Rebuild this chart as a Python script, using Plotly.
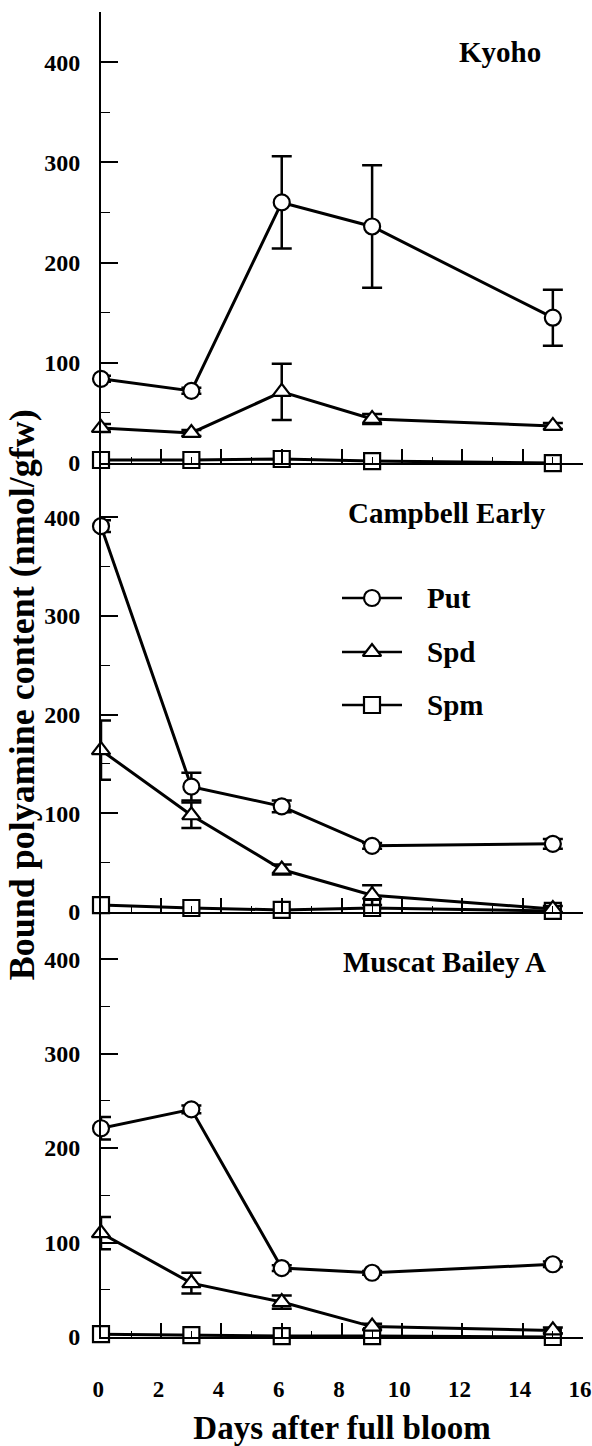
import plotly.graph_objects as go

days = [0, 3, 6, 9, 15]

kyoho_put = [84, 72, 260, 236, 145]
kyoho_put_err = [3, 3, 46, 61, 28]
kyoho_spd = [35, 30, 71, 44, 37]
kyoho_spd_err = [4, 3, 28, 5, 3]
kyoho_spm = [3, 3, 4, 2, 0]

campbell_put = [391, 127, 107, 67, 69]
campbell_put_err = [6, 14, 6, 3, 5]
campbell_spd = [164, 98, 43, 17, 3]
campbell_spd_err = [30, 13, 5, 10, 3]
campbell_spm = [7, 4, 2, 4, 1]

muscat_put = [221, 241, 73, 68, 77]
muscat_put_err = [12, 4, 3, 2, 3]
muscat_spd = [110, 57, 37, 11, 7]
muscat_spd_err = [17, 11, 7, 3, 3]
muscat_spm = [3, 2, 1, 1, 0]

cultivars = ["Kyoho", "Campbell Early", "Muscat Bailey A"]
series_names = ["Put", "Spd", "Spm"]
x_ticks = [0, 2, 4, 6, 8, 10, 12, 14, 16]
y_ticks = [0, 100, 200, 300, 400]

FONT = "Liberation Serif, Times New Roman, serif"
symbols = {"Put": "circle", "Spd": "triangle-up", "Spm": "square"}
MSIZE = 16

panels = [
    (kyoho_put, kyoho_put_err, kyoho_spd, kyoho_spd_err, kyoho_spm),
    (campbell_put, campbell_put_err, campbell_spd, campbell_spd_err, campbell_spm),
    (muscat_put, muscat_put_err, muscat_spd, muscat_spd_err, muscat_spm),
]

fig = go.Figure()
for i, (put, pe, spd, se, spm) in enumerate(panels):
    ax = "" if i == 0 else str(i + 1)
    data = [("Spm", spm, None), ("Spd", spd, se), ("Put", put, pe)]
    for name, vals, err in data:
        kw = {}
        if err is not None:
            kw["error_y"] = dict(type="data", array=err, visible=True,
                                 color="black", thickness=2.5, width=10)
        fig.add_trace(go.Scatter(
            x=days, y=vals, name=name, mode="lines+markers",
            xaxis="x" + ax, yaxis="y" + ax, cliponaxis=False,
            line=dict(color="black", width=3),
            marker=dict(symbol=symbols[name], size=MSIZE, color="white",
                        line=dict(color="black", width=2.2)),
            showlegend=False, **kw))

# manual key (legend) on a hidden full-area axis measured in pixels
key_rows = [598, 652, 705]
key_line_x = [342, 402]
key_marker_x = 372
for name, ry in zip(series_names, key_rows):
    fig.add_trace(go.Scatter(
        x=key_line_x, y=[ry, ry], mode="lines",
        xaxis="x4", yaxis="y4", cliponaxis=False, showlegend=False,
        hoverinfo="skip", line=dict(color="black", width=2.5)))
    fig.add_trace(go.Scatter(
        x=[key_marker_x], y=[ry], mode="markers",
        xaxis="x4", yaxis="y4", cliponaxis=False, showlegend=False,
        hoverinfo="skip",
        marker=dict(symbol=symbols[name], size=MSIZE, color="white",
                    line=dict(color="black", width=2.2))))

domains = [[0.6596, 1.0], [0.3208, 0.6596], [0.0, 0.3208]]
ranges = [[0, 450], [0, 455], [0, 450]]

layout = dict(
    width=592, height=1446,
    margin=dict(l=101, r=9, t=12, b=109),
    paper_bgcolor="white", plot_bgcolor="rgba(0,0,0,0)",
    font=dict(family=FONT, color="black", size=24, weight="bold"),
    showlegend=False,
)

x_ticktext = [str(v) + "\u00a0" for v in x_ticks]

for i in range(3):
    ax = "" if i == 0 else str(i + 1)
    layout["xaxis" + ax] = dict(
        domain=[0, 1], range=[0, 16.001], anchor="y" + ax, automargin=False,
        showline=True, linecolor="black", linewidth=2,
        ticks="inside", ticklen=14, tickwidth=1.5, tickcolor="black",
        tickvals=x_ticks, ticktext=x_ticktext,
        showgrid=False, zeroline=False,
        showticklabels=(i == 2), ticklabeloverflow="allow",
        ticklabelstandoff=30,
        tickfont=dict(size=23, family=FONT, weight="bold"),
        minor=dict(ticks="inside", ticklen=6, dtick=1, tickwidth=1.2,
                   tickcolor="black", showgrid=False),
    )
    layout["yaxis" + ax] = dict(
        domain=domains[i], range=ranges[i], anchor="x" + ax, automargin=False,
        showline=True, linecolor="black", linewidth=2,
        ticks="inside", ticklen=17, tickwidth=1.5, tickcolor="black",
        tickvals=y_ticks, showgrid=False, zeroline=False,
        ticklabelstandoff=14,
        tickfont=dict(size=24, family=FONT, weight="bold"),
        minor=dict(ticks="inside", ticklen=9, dtick=50, tickwidth=1.2,
                   tickcolor="black", showgrid=False),
    )

layout["xaxis4"] = dict(domain=[0, 1], range=[101, 583], anchor="y4",
                        visible=False, fixedrange=True, automargin=False)
layout["yaxis4"] = dict(domain=[0, 1], range=[1337, 12], anchor="x4",
                        visible=False, fixedrange=True, automargin=False)

layout["xaxis3"]["title"] = dict(text="Days after full bloom",
                                 font=dict(size=33, family=FONT, weight="bold"),
                                 standoff=22)

lab_font = dict(size=29, family=FONT, weight="bold")
annotations = [
    dict(text=cultivars[0], x=13.25, y=410, xref="x", yref="y",
         showarrow=False, font=lab_font),
    dict(text=cultivars[1], x=11.5, y=404, xref="x2", yref="y2",
         showarrow=False, font=lab_font),
    dict(text=cultivars[2], x=11.4, y=397, xref="x3", yref="y3",
         showarrow=False, font=lab_font),
    dict(text="Bound polyamine content (nmol/gfw)", x=-0.164, y=0.485,
         xref="paper", yref="paper", textangle=-90, showarrow=False,
         xanchor="center", yanchor="middle",
         font=dict(size=36, family=FONT, weight="bold")),
]
for name, ry in zip(series_names, key_rows):
    annotations.append(dict(text=name, x=425, y=ry, xref="x4", yref="y4",
                            xanchor="left", yanchor="middle", showarrow=False,
                            font=dict(size=29, family=FONT, weight="bold")))
layout["annotations"] = annotations

fig.update_layout(**layout)
fig.write_html("out.html")
